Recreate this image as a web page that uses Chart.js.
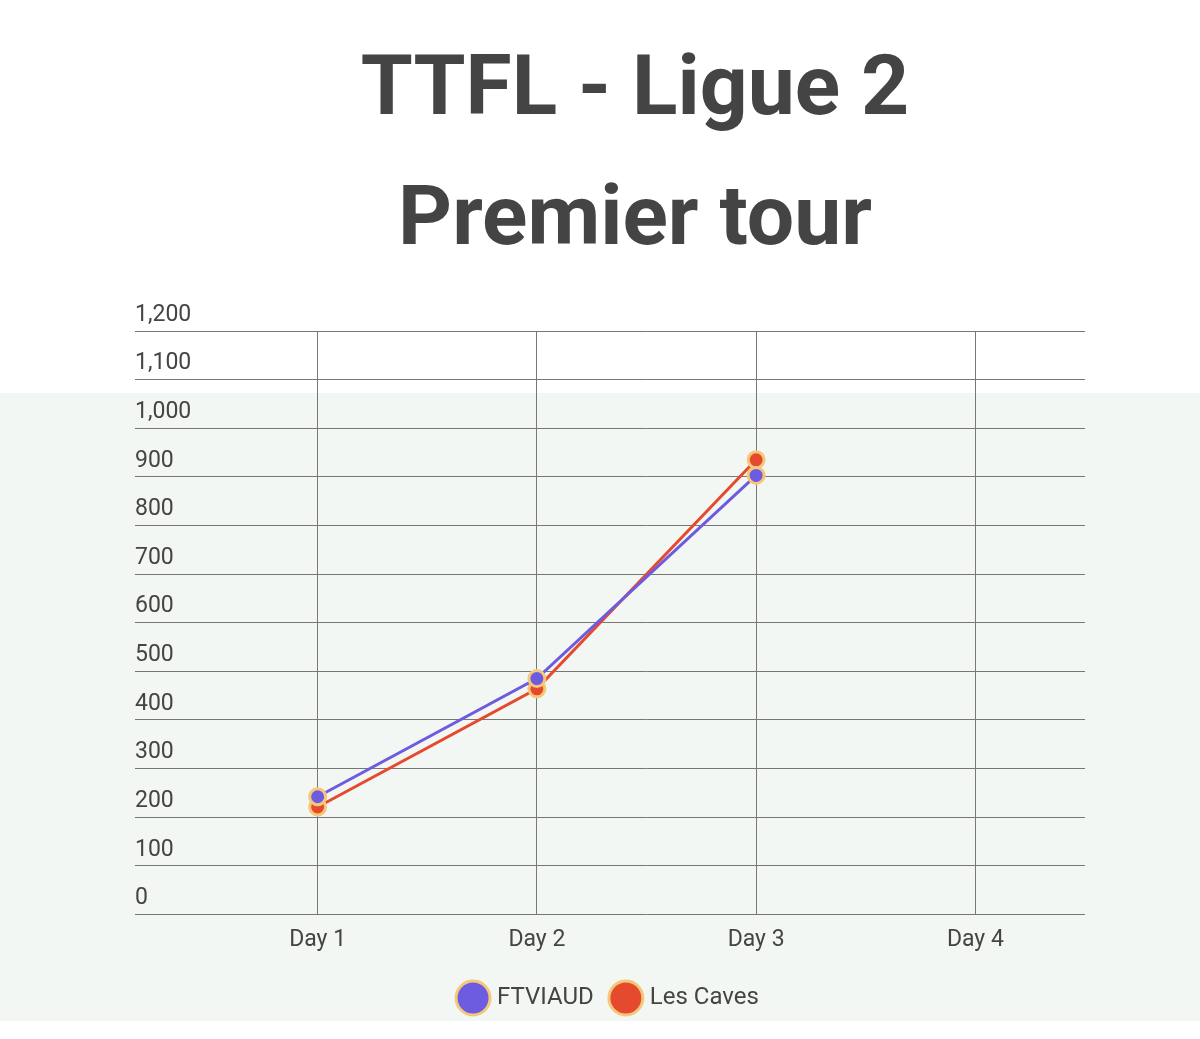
<!DOCTYPE html>
<html>
<head>
<meta charset="utf-8">
<script src="https://cdn.jsdelivr.net/npm/chart.js@4/dist/chart.umd.min.js"></script>
<style>
  body { margin: 0; background: #fff; font-family: Roboto, sans-serif; }
  #band { position: absolute; left: 0; top: 393px; width: 1200px; height: 628px; background: #f3f7f3; }
  #title { position: absolute; left: 0; top: 21px; width: 1270px; text-align: center; color: #444; font-weight: bold; font-size: 84px; line-height: 130px; }
  #wrap { position: absolute; left: 0; top: 290px; width: 1200px; height: 740px; }
</style>
</head>
<body>
<div id="band"></div>
<div id="title">TTFL - Ligue 2<br>Premier tour</div>
<div id="wrap"><canvas id="myChart" width="1200" height="740"></canvas></div>
<script>
var days = ['Day 1', 'Day 2', 'Day 3', 'Day 4'];
var ftviaud = [242, 485, 903, null];
var lesCaves = [221, 464, 935, null];

var ctx = document.getElementById('myChart').getContext('2d');
var chart = new Chart(ctx, {
    type: 'line',
    data: {
        labels: days,
        datasets: [{
            label: 'FTVIAUD',
            data: ftviaud,
            borderColor: '#6d5ce0',
            backgroundColor: '#6d5ce0',
            pointBackgroundColor: '#6d5ce0',
            pointBorderColor: '#f5c77a',
            borderWidth: 3,
            pointRadius: 8,
            pointBorderWidth: 3
        }, {
            label: 'Les Caves',
            data: lesCaves,
            borderColor: '#e64a2e',
            backgroundColor: '#e64a2e',
            pointBackgroundColor: '#e64a2e',
            pointBorderColor: '#f5c77a',
            borderWidth: 3,
            pointRadius: 8,
            pointBorderWidth: 3
        }]
    },
    options: {
        responsive: false,
        animation: false,
        devicePixelRatio: 1,
        layout: { padding: { left: 135, right: 115, top: 41, bottom: 10 } },
        plugins: {
            legend: {
                position: 'bottom',
                labels: {
                    usePointStyle: true, pointStyle: 'circle', boxWidth: 26, boxHeight: 26,
                    padding: 20, color: '#444', font: { family: 'Roboto', size: 24 }
                }
            },
            tooltip: { enabled: false }
        },
        scales: {
            x: {
                offset: true,
                grid: { color: '#777', offset: false, drawTicks: false },
                border: { display: false },
                ticks: { color: '#444', font: { family: 'Roboto', size: 23 }, padding: 12 }
            },
            y: {
                min: 0, max: 1200,
                ticks: {
                    stepSize: 100, color: '#444', font: { family: 'Roboto', size: 23 },
                    crossAlign: 'far', labelOffset: -16, padding: 0
                },
                grid: { color: '#777', tickLength: 73 },
                border: { display: false },
                afterFit: function (axis) { axis.width = 73; }
            }
        }
    }
});
</script>
</body>
</html>
